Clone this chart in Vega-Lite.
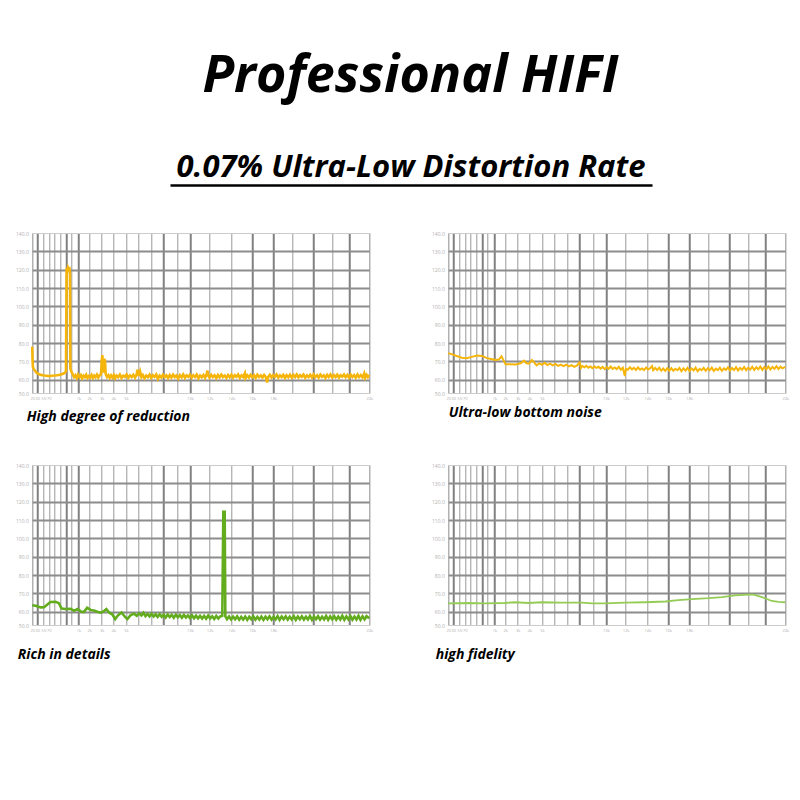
{
  "$schema": "https://vega.github.io/schema/vega-lite/v6.json",
  "background": "#ffffff",
  "padding": {"left": 15, "top": 50, "right": 12, "bottom": 10},
  "title": {"text": "Professional HIFI", "font": "Open Sans", "fontSize": 52, "fontWeight": "bold", "fontStyle": "italic", "color": "#000000", "anchor": "middle", "offset": 48, "dx": 8},
  "config": {
    "font": "Open Sans",
    "view": {"stroke": "#cccccc", "strokeWidth": 1},
    "axisX": {
      "labelFontSize": 4,
      "labelColor": "#b0b0b0",
      "labelPadding": 3,
      "labelFlush": false,
      "labelOverlap": false,
      "domain": false,
      "ticks": false,
      "grid": true,
      "titleFont": "Open Sans",
      "titleFontSize": 14,
      "titleFontWeight": "bold",
      "titleFontStyle": "italic",
      "titleColor": "#000000",
      "titleAnchor": "start",
      "titleAlign": "left",
      "titleBaseline": "alphabetic"
    },
    "axisY": {
      "labelFontSize": 5,
      "labelColor": "#b0b0b0",
      "labelPadding": 4,
      "labelFlush": false,
      "labelOverlap": false,
      "domain": false,
      "ticks": false,
      "grid": true,
      "title": null
    }
  },
  "datasets": {
    "p1": [
      {"pos":0,"level":78},{"pos":1,"level":70},{"pos":2,"level":67},{"pos":4,"level":66},{"pos":6,"level":65.5},{"pos":9,"level":64.8},{"pos":12,"level":64},{"pos":16,"level":63.5},{"pos":20,"level":63},{"pos":25,"level":62.8},{"pos":30,"level":62.5},{"pos":36,"level":62.3},{"pos":42,"level":62.2},{"pos":50,"level":62},{"pos":58,"level":62.2},{"pos":66,"level":62.3},{"pos":74,"level":62.5},{"pos":82,"level":62.8},{"pos":90,"level":63.2},{"pos":96,"level":63.8},{"pos":100,"level":64.5},{"pos":102,"level":121},{"pos":104,"level":119},{"pos":106,"level":121},{"pos":108,"level":120},{"pos":110,"level":121.5},{"pos":112,"level":118},{"pos":113,"level":66},{"pos":116,"level":64.5},{"pos":120,"level":63},{"pos":124,"level":61.5},{"pos":128,"level":62.5},{"pos":132,"level":61},{"pos":136,"level":62.8},{"pos":140,"level":61.5},{"pos":144,"level":62.5},{"pos":148,"level":60.8},{"pos":152,"level":62.2},{"pos":156,"level":61.5},{"pos":160,"level":62.8},{"pos":164,"level":61},{"pos":168,"level":62},{"pos":172,"level":61.2},{"pos":176,"level":62.6},{"pos":180,"level":61},{"pos":184,"level":62.3},{"pos":188,"level":61.4},{"pos":192,"level":62.8},{"pos":196,"level":61.2},{"pos":200,"level":62.4},{"pos":204,"level":63},{"pos":206,"level":70},{"pos":208,"level":73.5},{"pos":210,"level":64},{"pos":212,"level":66},{"pos":214,"level":71.5},{"pos":216,"level":70},{"pos":218,"level":63},{"pos":222,"level":61.5},{"pos":226,"level":62.5},{"pos":230,"level":61},{"pos":234,"level":62.4},{"pos":238,"level":61.2},{"pos":242,"level":62.6},{"pos":246,"level":60.9},{"pos":250,"level":62.3},{"pos":255,"level":61.4},{"pos":260,"level":62.8},{"pos":265,"level":61},{"pos":270,"level":62.2},{"pos":275,"level":61.6},{"pos":280,"level":62.9},{"pos":285,"level":61.1},{"pos":290,"level":62.4},{"pos":295,"level":61.5},{"pos":300,"level":62.7},{"pos":305,"level":61.2},{"pos":310,"level":63},{"pos":312,"level":65.5},{"pos":314,"level":64},{"pos":316,"level":62},{"pos":320,"level":64.5},{"pos":324,"level":61.5},{"pos":328,"level":62.6},{"pos":333,"level":60.8},{"pos":338,"level":62.3},{"pos":343,"level":61.4},{"pos":348,"level":62.8},{"pos":353,"level":61},{"pos":358,"level":62.5},{"pos":363,"level":61.6},{"pos":368,"level":62.9},{"pos":373,"level":60.5},{"pos":378,"level":62.2},{"pos":383,"level":61.3},{"pos":388,"level":62.7},{"pos":393,"level":61.5},{"pos":398,"level":62.4},{"pos":403,"level":60.9},{"pos":408,"level":62.6},{"pos":413,"level":61.2},{"pos":418,"level":62.8},{"pos":423,"level":61.5},{"pos":428,"level":62.3},{"pos":433,"level":60.7},{"pos":438,"level":62.5},{"pos":443,"level":61.4},{"pos":448,"level":62.9},{"pos":453,"level":61},{"pos":458,"level":62.4},{"pos":463,"level":61.6},{"pos":468,"level":62.7},{"pos":473,"level":61.2},{"pos":478,"level":62.5},{"pos":483,"level":61.5},{"pos":488,"level":62.8},{"pos":493,"level":60.8},{"pos":498,"level":62.3},{"pos":503,"level":61.4},{"pos":508,"level":62.6},{"pos":513,"level":61.1},{"pos":518,"level":63.5},{"pos":520,"level":65},{"pos":522,"level":62.5},{"pos":526,"level":61.2},{"pos":531,"level":62.7},{"pos":536,"level":61.5},{"pos":541,"level":62.4},{"pos":546,"level":60.9},{"pos":551,"level":62.6},{"pos":556,"level":61.3},{"pos":561,"level":62.8},{"pos":566,"level":61.5},{"pos":571,"level":62.3},{"pos":576,"level":61},{"pos":581,"level":62.6},{"pos":586,"level":61.4},{"pos":591,"level":62.8},{"pos":596,"level":61.2},{"pos":601,"level":62.5},{"pos":606,"level":61.6},{"pos":611,"level":62.9},{"pos":616,"level":61},{"pos":621,"level":62.4},{"pos":626,"level":61.5},{"pos":631,"level":63.5},{"pos":633,"level":61},{"pos":638,"level":62.5},{"pos":643,"level":61.3},{"pos":648,"level":62.7},{"pos":653,"level":61.4},{"pos":658,"level":62.5},{"pos":663,"level":61},{"pos":668,"level":62.8},{"pos":673,"level":61.5},{"pos":678,"level":62.4},{"pos":683,"level":61.2},{"pos":688,"level":62.6},{"pos":693,"level":61.5},{"pos":697,"level":58.5},{"pos":700,"level":61.5},{"pos":705,"level":62.7},{"pos":710,"level":61.3},{"pos":715,"level":62.5},{"pos":720,"level":61.6},{"pos":725,"level":62.9},{"pos":730,"level":61.2},{"pos":735,"level":62.4},{"pos":740,"level":61.5},{"pos":745,"level":62.7},{"pos":750,"level":61},{"pos":755,"level":62.5},{"pos":760,"level":61.4},{"pos":765,"level":62.8},{"pos":770,"level":61.2},{"pos":775,"level":62.6},{"pos":780,"level":61.5},{"pos":785,"level":62.9},{"pos":790,"level":61.3},{"pos":795,"level":62.5},{"pos":800,"level":61.6},{"pos":805,"level":62.8},{"pos":810,"level":61.1},{"pos":815,"level":62.4},{"pos":820,"level":61.5},{"pos":825,"level":62.7},{"pos":830,"level":61.3},{"pos":835,"level":62.9},{"pos":840,"level":61.5},{"pos":845,"level":62.5},{"pos":850,"level":61.2},{"pos":855,"level":62.8},{"pos":860,"level":61.6},{"pos":865,"level":62.4},{"pos":870,"level":61},{"pos":875,"level":62.7},{"pos":880,"level":61.5},{"pos":885,"level":62.9},{"pos":890,"level":61.3},{"pos":895,"level":62.6},{"pos":900,"level":61.5},{"pos":905,"level":62.8},{"pos":910,"level":61.2},{"pos":915,"level":62.5},{"pos":920,"level":61.7},{"pos":925,"level":62.9},{"pos":930,"level":61.4},{"pos":935,"level":62.6},{"pos":940,"level":61.2},{"pos":945,"level":62.8},{"pos":950,"level":61.5},{"pos":955,"level":62.5},{"pos":960,"level":61.1},{"pos":965,"level":62.9},{"pos":970,"level":61.5},{"pos":975,"level":62.6},{"pos":980,"level":61.3},{"pos":985,"level":63.5},{"pos":988,"level":61.2},{"pos":992,"level":62.7},{"pos":996,"level":61.5},{"pos":1000,"level":62.6}
    ],
    "p2": [
      {"pos":0,"level":74.5},{"pos":10,"level":74},{"pos":25,"level":73},{"pos":40,"level":72},{"pos":55,"level":71.8},{"pos":70,"level":72.5},{"pos":85,"level":73.2},{"pos":100,"level":73},{"pos":115,"level":71.8},{"pos":130,"level":71.2},{"pos":140,"level":70.8},{"pos":150,"level":71},{"pos":158,"level":72.8},{"pos":163,"level":71},{"pos":170,"level":68.5},{"pos":185,"level":68.5},{"pos":200,"level":68.3},{"pos":215,"level":69},{"pos":225,"level":70.5},{"pos":232,"level":69},{"pos":240,"level":68.8},{"pos":248,"level":70.8},{"pos":255,"level":69.5},{"pos":262,"level":67.8},{"pos":270,"level":68.9},{"pos":278,"level":68.2},{"pos":286,"level":69.3},{"pos":294,"level":68},{"pos":302,"level":68.8},{"pos":310,"level":67.9},{"pos":318,"level":68.7},{"pos":326,"level":67.6},{"pos":334,"level":68.3},{"pos":342,"level":67.5},{"pos":350,"level":68.2},{"pos":358,"level":67.3},{"pos":366,"level":68},{"pos":374,"level":67},{"pos":382,"level":67.8},{"pos":390,"level":69.5},{"pos":394,"level":66.5},{"pos":398,"level":67.5},{"pos":404,"level":66.8},{"pos":410,"level":67.6},{"pos":416,"level":66.6},{"pos":422,"level":67.3},{"pos":428,"level":66.3},{"pos":434,"level":67.2},{"pos":440,"level":66.5},{"pos":446,"level":67.1},{"pos":452,"level":66.1},{"pos":458,"level":67},{"pos":464,"level":65.8},{"pos":470,"level":66.9},{"pos":476,"level":66},{"pos":482,"level":67.2},{"pos":488,"level":65.9},{"pos":494,"level":66.7},{"pos":500,"level":65.8},{"pos":506,"level":67},{"pos":512,"level":65.5},{"pos":518,"level":66.6},{"pos":524,"level":62},{"pos":527,"level":66},{"pos":533,"level":65.5},{"pos":539,"level":66.8},{"pos":545,"level":65.7},{"pos":551,"level":66.5},{"pos":557,"level":65.4},{"pos":563,"level":66.8},{"pos":569,"level":65.5},{"pos":575,"level":66.2},{"pos":581,"level":65.3},{"pos":587,"level":66.7},{"pos":593,"level":65.6},{"pos":599,"level":66.3},{"pos":605,"level":67.5},{"pos":608,"level":65.2},{"pos":614,"level":66.4},{"pos":620,"level":65.3},{"pos":626,"level":66.6},{"pos":632,"level":65},{"pos":638,"level":66.1},{"pos":644,"level":64.8},{"pos":650,"level":66.3},{"pos":656,"level":65},{"pos":662,"level":66.4},{"pos":668,"level":64.9},{"pos":674,"level":66},{"pos":680,"level":65.2},{"pos":686,"level":66.5},{"pos":692,"level":64.7},{"pos":698,"level":66.2},{"pos":704,"level":65},{"pos":710,"level":66.5},{"pos":716,"level":64.8},{"pos":722,"level":66.2},{"pos":728,"level":65.1},{"pos":734,"level":66.6},{"pos":740,"level":64.7},{"pos":746,"level":66},{"pos":752,"level":65.2},{"pos":758,"level":66.5},{"pos":764,"level":64.9},{"pos":770,"level":66.3},{"pos":776,"level":65.2},{"pos":782,"level":66.7},{"pos":788,"level":64.8},{"pos":794,"level":66.1},{"pos":800,"level":65.3},{"pos":806,"level":66.6},{"pos":812,"level":64.9},{"pos":818,"level":66.2},{"pos":824,"level":65.4},{"pos":830,"level":66.8},{"pos":836,"level":65},{"pos":842,"level":66.4},{"pos":848,"level":65.3},{"pos":854,"level":66.9},{"pos":860,"level":65.1},{"pos":866,"level":66.5},{"pos":872,"level":65.5},{"pos":878,"level":67},{"pos":884,"level":65.2},{"pos":890,"level":66.6},{"pos":896,"level":65.6},{"pos":902,"level":67.1},{"pos":908,"level":65.3},{"pos":914,"level":66.8},{"pos":920,"level":65.7},{"pos":926,"level":67.2},{"pos":932,"level":65.4},{"pos":938,"level":66.9},{"pos":944,"level":65.8},{"pos":950,"level":67.3},{"pos":956,"level":65.6},{"pos":962,"level":67},{"pos":968,"level":66},{"pos":974,"level":67.4},{"pos":980,"level":65.8},{"pos":986,"level":67.1},{"pos":992,"level":66.2},{"pos":1000,"level":67}
    ],
    "p3": [
      {"pos":0,"level":63.6},{"pos":10,"level":63.3},{"pos":25,"level":62.4},{"pos":35,"level":62.5},{"pos":45,"level":64},{"pos":54,"level":65.3},{"pos":69,"level":65.5},{"pos":79,"level":64.7},{"pos":87,"level":61.8},{"pos":99,"level":61.5},{"pos":114,"level":61.6},{"pos":124,"level":60.5},{"pos":134,"level":61.5},{"pos":144,"level":60.2},{"pos":153,"level":59.8},{"pos":163,"level":62.2},{"pos":173,"level":61},{"pos":183,"level":60.7},{"pos":193,"level":60},{"pos":203,"level":59.5},{"pos":213,"level":60.4},{"pos":220,"level":61.5},{"pos":228,"level":59.6},{"pos":238,"level":58.5},{"pos":246,"level":56},{"pos":255,"level":58.2},{"pos":265,"level":59.6},{"pos":275,"level":57.3},{"pos":282,"level":56},{"pos":292,"level":58.2},{"pos":302,"level":58.9},{"pos":310,"level":57.8},{"pos":317,"level":59.1},{"pos":324,"level":58},{"pos":330,"level":59.4},{"pos":336,"level":57.6},{"pos":342,"level":58.8},{"pos":348,"level":57.5},{"pos":354,"level":58.9},{"pos":360,"level":57.4},{"pos":366,"level":58.6},{"pos":372,"level":57.2},{"pos":378,"level":58.7},{"pos":384,"level":57.3},{"pos":390,"level":58.4},{"pos":396,"level":56.9},{"pos":402,"level":58.5},{"pos":408,"level":57.1},{"pos":414,"level":58.3},{"pos":420,"level":56.8},{"pos":426,"level":58.4},{"pos":432,"level":57},{"pos":438,"level":58.2},{"pos":444,"level":56.7},{"pos":450,"level":58.3},{"pos":456,"level":56.9},{"pos":462,"level":58},{"pos":468,"level":56.6},{"pos":474,"level":58.1},{"pos":480,"level":56.5},{"pos":486,"level":57.9},{"pos":492,"level":56.4},{"pos":498,"level":57.8},{"pos":504,"level":56.3},{"pos":510,"level":57.7},{"pos":516,"level":56.2},{"pos":522,"level":57.9},{"pos":528,"level":56.4},{"pos":534,"level":57.6},{"pos":540,"level":56.1},{"pos":546,"level":57.7},{"pos":552,"level":56.3},{"pos":558,"level":57.5},{"pos":564,"level":57.8},{"pos":567,"level":114.5},{"pos":571,"level":114.5},{"pos":573,"level":57.5},{"pos":578,"level":56},{"pos":584,"level":57.4},{"pos":590,"level":55.8},{"pos":596,"level":57.3},{"pos":602,"level":55.9},{"pos":608,"level":57.5},{"pos":614,"level":55.7},{"pos":620,"level":57.2},{"pos":626,"level":55.8},{"pos":632,"level":57.4},{"pos":638,"level":55.6},{"pos":644,"level":57.3},{"pos":650,"level":55.9},{"pos":656,"level":57.5},{"pos":662,"level":55.7},{"pos":668,"level":57.2},{"pos":674,"level":55.8},{"pos":680,"level":57.4},{"pos":686,"level":55.6},{"pos":692,"level":57.3},{"pos":698,"level":55.9},{"pos":704,"level":57.5},{"pos":710,"level":55.7},{"pos":716,"level":57.3},{"pos":722,"level":55.8},{"pos":728,"level":57.6},{"pos":734,"level":55.6},{"pos":740,"level":57.4},{"pos":746,"level":55.9},{"pos":752,"level":57.5},{"pos":758,"level":55.7},{"pos":764,"level":57.3},{"pos":770,"level":55.8},{"pos":776,"level":57.6},{"pos":782,"level":55.6},{"pos":788,"level":57.4},{"pos":794,"level":55.9},{"pos":800,"level":57.5},{"pos":806,"level":55.7},{"pos":812,"level":57.3},{"pos":818,"level":55.8},{"pos":824,"level":57.7},{"pos":830,"level":55.6},{"pos":836,"level":57.4},{"pos":842,"level":55.9},{"pos":848,"level":57.6},{"pos":854,"level":55.7},{"pos":860,"level":57.3},{"pos":866,"level":55.8},{"pos":872,"level":57.7},{"pos":878,"level":55.6},{"pos":884,"level":57.5},{"pos":890,"level":55.9},{"pos":896,"level":57.6},{"pos":902,"level":55.7},{"pos":908,"level":57.4},{"pos":914,"level":55.8},{"pos":920,"level":57.8},{"pos":926,"level":55.6},{"pos":932,"level":57.5},{"pos":938,"level":55.9},{"pos":944,"level":57.7},{"pos":950,"level":55.7},{"pos":956,"level":57.4},{"pos":962,"level":55.8},{"pos":968,"level":57.8},{"pos":974,"level":55.6},{"pos":980,"level":57.5},{"pos":986,"level":55.9},{"pos":992,"level":57.6},{"pos":1000,"level":56.5}
    ],
    "p4": [
      {"pos":0,"level":64.6},{"pos":59,"level":64.8},{"pos":109,"level":64.6},{"pos":168,"level":64.8},{"pos":198,"level":65.2},{"pos":238,"level":64.8},{"pos":277,"level":65.2},{"pos":337,"level":65},{"pos":396,"level":65},{"pos":426,"level":64.6},{"pos":465,"level":64.6},{"pos":525,"level":65},{"pos":584,"level":65.2},{"pos":644,"level":65.6},{"pos":683,"level":66.3},{"pos":723,"level":66.9},{"pos":772,"level":67.4},{"pos":812,"level":68},{"pos":851,"level":68.9},{"pos":891,"level":69.4},{"pos":906,"level":69.3},{"pos":931,"level":68},{"pos":960,"level":65.9},{"pos":980,"level":65.4},{"pos":1000,"level":65.2}
    ]
  },
  "vconcat": [
    {
      "width": 482,
      "height": 34,
      "view": {"stroke": null},
      "data": {"values": [{"label": "0.07% Ultra-Low Distortion Rate"}]},
      "mark": {"type": "text", "font": "Open Sans", "fontSize": 31, "fontWeight": "bold", "fontStyle": "italic", "color": "#000000", "baseline": "middle"},
      "encoding": {
        "x": {"datum": 0.5, "type": "quantitative", "scale": {"domain": [0, 1]}, "axis": {"domain": true, "domainColor": "#000000", "domainWidth": 2.5, "ticks": false, "labels": false, "grid": false, "title": null}},
        "text": {"field": "label", "type": "nominal"}
      }
    },
    {
      "spacing": 38,
      "vconcat": [
        {
          "hconcat": [
            {
              "width": 337, "height": 160,
              "data": {"name": "p1"},
              "mark": {"type": "line", "color": "#F5B50A", "strokeWidth": 2.6},
              "encoding": {
                "x": {"field": "pos", "type": "quantitative", "scale": {"domain": [0, 1000], "nice": false},
                  "axis": {"title": "High degree of reduction", "titleX": -6, "titleY": 27,
                    "values": [0,15,33,49,64,82,100,115,137,169,206,241,278,315,352,390,430,468,526,591,653,715,772,833,890,941,1000],
                    "labelExpr": "['20','30','50','70','','','','','1k','2k','3k','4k','5k','','','','','10k','12k','14k','16k','18k','','','','','24k'][indexof([0,15,33,49,64,82,100,115,137,169,206,241,278,315,352,390,430,468,526,591,653,715,772,833,890,941,1000], datum.value)]",
                    "gridColor": {"condition": {"test": "indexof([15,100,137,390,468,653,715,833,941], datum.value) >= 0", "value": "#808080"}, "value": "#aaaaaa"},
                    "gridWidth": {"condition": {"test": "indexof([15,100,137,390,468,653,715,833,941], datum.value) >= 0", "value": 2}, "value": 1.2}}},
                "y": {"field": "level", "type": "quantitative", "scale": {"domain": [52.8, 140], "nice": false, "zero": false},
                  "axis": {"values": [52.8,60,70,80,90,100,110,120,130,140],
                    "labelExpr": "datum.value < 55 ? '50.0' : format(datum.value, '.1f')",
                    "gridColor": {"condition": {"test": "datum.value > 135 || datum.value < 55", "value": "#cccccc"}, "value": "#8c8c8c"},
                    "gridWidth": {"condition": {"test": "datum.value > 135 || datum.value < 55", "value": 1}, "value": 2}}}
              }
            },
            {
              "width": 337, "height": 160,
              "data": {"name": "p2"},
              "mark": {"type": "line", "color": "#F5B50A", "strokeWidth": 2},
              "encoding": {
                "x": {"field": "pos", "type": "quantitative", "scale": {"domain": [0, 1000], "nice": false},
                  "axis": {"title": "Ultra-low bottom noise", "titleX": 0, "titleY": 23,
                    "values": [0,15,33,49,64,82,100,115,137,169,206,241,278,315,352,390,430,468,526,591,653,715,772,833,890,941,1000],
                    "labelExpr": "['20','30','50','70','','','','','1k','2k','3k','4k','5k','','','','','10k','12k','14k','16k','18k','','','','','24k'][indexof([0,15,33,49,64,82,100,115,137,169,206,241,278,315,352,390,430,468,526,591,653,715,772,833,890,941,1000], datum.value)]",
                    "gridColor": {"condition": {"test": "indexof([15,100,137,390,468,653,715,833,941], datum.value) >= 0", "value": "#808080"}, "value": "#aaaaaa"},
                    "gridWidth": {"condition": {"test": "indexof([15,100,137,390,468,653,715,833,941], datum.value) >= 0", "value": 2}, "value": 1.2}}},
                "y": {"field": "level", "type": "quantitative", "scale": {"domain": [52.8, 140], "nice": false, "zero": false},
                  "axis": {"values": [52.8,60,70,80,90,100,110,120,130,140],
                    "labelExpr": "datum.value < 55 ? '50.0' : format(datum.value, '.1f')",
                    "gridColor": {"condition": {"test": "datum.value > 135 || datum.value < 55", "value": "#cccccc"}, "value": "#8c8c8c"},
                    "gridWidth": {"condition": {"test": "datum.value > 135 || datum.value < 55", "value": 1}, "value": 2}}}
              }
            }
          ],
          "spacing": 55
        },
        {
          "hconcat": [
            {
              "width": 337, "height": 160,
              "data": {"name": "p3"},
              "mark": {"type": "line", "color": "#62AC1E", "strokeWidth": 2.6},
              "encoding": {
                "x": {"field": "pos", "type": "quantitative", "scale": {"domain": [0, 1000], "nice": false},
                  "axis": {"title": "Rich in details", "titleX": -15, "titleY": 33,
                    "values": [0,15,33,49,64,82,100,115,137,169,206,241,278,315,352,390,430,468,526,591,653,715,772,833,890,941,1000],
                    "labelExpr": "['20','30','50','70','','','','','1k','2k','3k','4k','5k','','','','','10k','12k','14k','16k','18k','','','','','24k'][indexof([0,15,33,49,64,82,100,115,137,169,206,241,278,315,352,390,430,468,526,591,653,715,772,833,890,941,1000], datum.value)]",
                    "gridColor": {"condition": {"test": "indexof([15,100,137,390,468,653,715,833,941], datum.value) >= 0", "value": "#808080"}, "value": "#aaaaaa"},
                    "gridWidth": {"condition": {"test": "indexof([15,100,137,390,468,653,715,833,941], datum.value) >= 0", "value": 2}, "value": 1.2}}},
                "y": {"field": "level", "type": "quantitative", "scale": {"domain": [52.8, 140], "nice": false, "zero": false},
                  "axis": {"values": [52.8,60,70,80,90,100,110,120,130,140],
                    "labelExpr": "datum.value < 55 ? '50.0' : format(datum.value, '.1f')",
                    "gridColor": {"condition": {"test": "datum.value > 135 || datum.value < 55", "value": "#cccccc"}, "value": "#8c8c8c"},
                    "gridWidth": {"condition": {"test": "datum.value > 135 || datum.value < 55", "value": 1}, "value": 2}}}
              }
            },
            {
              "width": 337, "height": 160,
              "data": {"name": "p4"},
              "mark": {"type": "line", "color": "#94CC55", "strokeWidth": 1.8},
              "encoding": {
                "x": {"field": "pos", "type": "quantitative", "scale": {"domain": [0, 1000], "nice": false},
                  "axis": {"title": "high fidelity", "titleX": -13, "titleY": 33,
                    "values": [0,15,33,49,64,82,100,115,137,169,206,241,278,315,352,390,430,468,526,591,653,715,772,833,890,941,1000],
                    "labelExpr": "['20','30','50','70','','','','','1k','2k','3k','4k','5k','','','','','10k','12k','14k','16k','18k','','','','','24k'][indexof([0,15,33,49,64,82,100,115,137,169,206,241,278,315,352,390,430,468,526,591,653,715,772,833,890,941,1000], datum.value)]",
                    "gridColor": {"condition": {"test": "indexof([15,100,137,390,468,653,715,833,941], datum.value) >= 0", "value": "#808080"}, "value": "#aaaaaa"},
                    "gridWidth": {"condition": {"test": "indexof([15,100,137,390,468,653,715,833,941], datum.value) >= 0", "value": 2}, "value": 1.2}}},
                "y": {"field": "level", "type": "quantitative", "scale": {"domain": [52.8, 140], "nice": false, "zero": false},
                  "axis": {"values": [52.8,60,70,80,90,100,110,120,130,140],
                    "labelExpr": "datum.value < 55 ? '50.0' : format(datum.value, '.1f')",
                    "gridColor": {"condition": {"test": "datum.value > 135 || datum.value < 55", "value": "#cccccc"}, "value": "#8c8c8c"},
                    "gridWidth": {"condition": {"test": "datum.value > 135 || datum.value < 55", "value": 1}, "value": 2}}}
              }
            }
          ],
          "spacing": 55
        }
      ]
    }
  ],
  "spacing": 45,
  "center": true
}
